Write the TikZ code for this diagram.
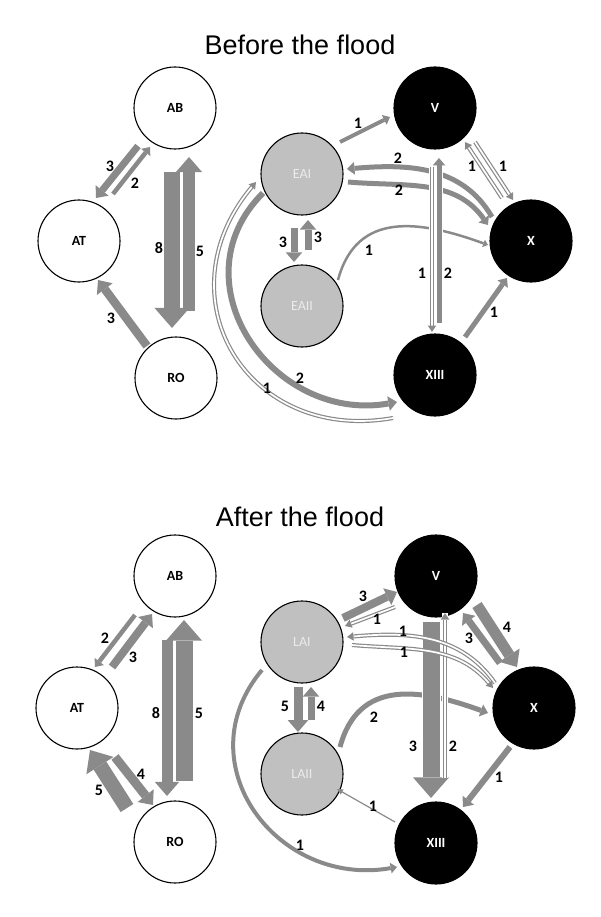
\documentclass[tikz,border=0pt]{standalone}
\usepackage{fontspec}
\newfontfamily\calfont{Carlito}
\newfontfamily\titlefont{Liberation Sans}
\usetikzlibrary{calc,arrows.meta}
\definecolor{flowc}{RGB}{138,138,138}
\definecolor{nodegray}{RGB}{192,192,192}
\definecolor{nodetext}{RGB}{235,235,235}
\tikzset{
  circ/.style={circle, minimum size=82pt, inner sep=0pt, line width=1.1pt, draw=black},
  wn/.style={circ, fill=white, font=\calfont\bfseries\fontsize{14}{14}\selectfont},
  gn/.style={circ, fill=nodegray, text=nodetext, font=\calfont\fontsize{14}{14}\selectfont},
  bn/.style={circ, fill=black, text=white, font=\calfont\bfseries\fontsize{14}{14}\selectfont},
  fl/.style={draw=flowc, line width=#1, -{Triangle[length=2pt 1.1, width=3pt 1.95, line width=0pt]}},
  hol/.style={draw=flowc, double=white, line width=1.2pt, double distance=1.7pt, -{Triangle[length=6.5pt, width=8.5pt, line width=0pt]}},
  thin/.style={draw=flowc, line width=1.2pt, -{Triangle[length=6pt, width=6pt, line width=0pt]}},
  halo/.style={preaction={draw=white, line width=#1, -}},
  lab/.style={font=\calfont\bfseries\fontsize{16}{16}\selectfont, inner sep=1pt},
  ttl/.style={font=\titlefont\fontsize{27}{27}\selectfont, inner sep=0pt},
}
\begin{document}
\begin{tikzpicture}[x=1pt,y=1pt]
\useasboundingbox (0,0) rectangle (600,-917);
% titles
\node[ttl] (t1) at (300,-45) {Before the flood};
\node[ttl] (t2) at (300,-517) {After the flood};
% ---------- before ----------
\node[wn] (AB) at (175,-108) {AB};
\node[wn] (AT) at (79,-241) {AT};
\node[wn] (RO) at (176,-378) {RO};
\node[gn] (EAI) at (302,-174) {EAI};
\node[gn] (EAII) at (302,-306) {EAII};
\node[bn] (V) at (435,-108) {V};
\node[bn] (X) at (531,-241) {X};
\node[bn] (XIII) at (435,-375) {XIII};

\draw[fl=7] ($(AB)+(-37,-38)$) -- ($(AT)+(17,43)$);
\draw[fl=4.5] ($(AT)+(34,47)$) -- ($(AB)+(-25,-39)$);
\draw[fl=16.5] ($(AB)+(-3,-64)$) -- ($(RO)+(-4,50)$);
\draw[fl=12] ($(RO)+(13,67)$) -- ($(AB)+(14,-49)$);
\draw[fl=8.5] ($(RO)+(-29,32)$) -- ($(AT)+(19,-39)$);

\draw[fl=4] ($(EAI)+(38,32)$) -- ($(V)+(-45,-9)$);
\draw[hol] ($(X)+(-29,43)$) -- ($(V)+(30,-34)$);
\draw[hol] ($(V)+(40,-34)$) -- ($(X)+(-18,41)$);
\draw[fl=5] ($(XIII)+(30,38)$) -- ($(X)+(-24,-37)$);
\draw[fl=7] ($(EAI)+(-8,-54)$) -- ($(EAII)+(-8,44)$);
\draw[fl=7] ($(EAII)+(6,56)$) -- ($(EAI)+(6,-46)$);
\draw[fl=5] ($(X)+(-39,24)$) to[out=120,in=5] ($(EAI)+(45,5)$);
\draw[fl=5] ($(EAI)+(46,-8)$) to[out=-5,in=125] ($(X)+(-43,16)$);
\draw[fl=2.5] ($(EAII)+(36,26)$) to[out=75,in=160,looseness=1.2] ($(X)+(-43,-4)$);
\draw[fl=6] ($(EAI)+(-39,-19)$) to[out=225,in=190,looseness=1.3] ($(XIII)+(-38,-27)$);
\draw[hol] ($(XIII)+(-42,-43)$) to[out=190,in=230,looseness=1.4] ($(EAI)+(-46,-8)$);
\draw[hol, halo=6.5pt] ($(V)+(-3,-59)$) -- ($(XIII)+(-3,43)$);
\draw[fl=5, halo=7.5pt] ($(XIII)+(4,52)$) -- ($(V)+(4,-50)$);

\node[lab] (a1) at (110,-166) {3};
\node[lab] (a2) at (135,-183) {2};
\node[lab] (a3) at (159,-248) {8};
\node[lab] (a4) at (200,-251) {5};
\node[lab] (a5) at (111,-318) {3};
\node[lab] (a6) at (358,-123) {1};
\node[lab] (a7) at (398,-158) {2};
\node[lab] (a8) at (399,-190) {2};
\node[lab] (a9) at (472,-166) {1};
\node[lab] (a10) at (503,-166) {1};
\node[lab] (a11) at (283,-242) {3};
\node[lab] (a12) at (318,-237) {3};
\node[lab] (a13) at (369,-250) {1};
\node[lab] (a14) at (422,-273) {1};
\node[lab] (a15) at (448,-273) {2};
\node[lab] (a16) at (494,-312) {1};
\node[lab] (a17) at (300,-378) {2};
\node[lab] (a18) at (267,-388) {1};

% ---------- after ----------
\node[wn] (AB2) at (175,-576) {AB};
\node[wn] (AT2) at (77,-708) {AT};
\node[wn] (RO2) at (175,-842) {RO};
\node[gn] (LAI) at (302,-642) {LAI};
\node[gn] (LAII) at (302,-774) {LAII};
\node[bn] (V2) at (436,-576) {V};
\node[bn] (X2) at (534,-708) {X};
\node[bn] (XIII2) at (436,-843) {XIII};

\draw[fl=4.5] ($(AB2)+(-40,-39)$) -- ($(AT2)+(18,41)$);
\draw[fl=8] ($(AT2)+(35,41)$) -- ($(AB2)+(-23,-38)$);
\draw[fl=11] ($(AB2)+(-8,-64)$) -- ($(RO2)+(-8,46)$);
\draw[fl=17] ($(RO2)+(9,61)$) -- ($(AB2)+(9,-44)$);
\draw[fl=15] ($(RO2)+(-48,34)$) -- ($(AT2)+(13,-42)$);
\draw[fl=9] ($(AT2)+(38,-49)$) -- ($(RO2)+(-22,37)$);

\draw[fl=8] ($(LAI)+(41,24)$) -- ($(V2)+(-39,-16)$);
\draw[hol] ($(V2)+(-41,-31)$) -- ($(LAI)+(43,16)$);
\draw[fl=7] ($(X2)+(-34,45)$) -- ($(V2)+(27,-37)$);
\draw[fl=11] ($(V2)+(41,-29)$) -- ($(X2)+(-17,41)$);
\draw[fl=5] ($(LAII)+(38,27)$) to[out=75,in=160,looseness=1.2] ($(X2)+(-46,-5)$);
\draw[fl=6] ($(X2)+(-24,-39)$) -- ($(XIII2)+(27,36)$);
\draw[thin] ($(XIII2)+(-41,21)$) -- ($(LAII)+(35,-15)$);
\draw[fl=9] ($(LAI)+(-4,-45)$) -- ($(LAII)+(-4,42)$);
\draw[fl=7] ($(LAII)+(9,54)$) -- ($(LAI)+(9,-45)$);
\draw[fl=4] ($(LAI)+(-40,-28)$) to[out=230,in=190,looseness=1.3] ($(XIII2)+(-39,-24)$);
\draw[fl=17, halo=19pt] ($(V2)+(-5,-46)$) -- ($(XIII2)+(-5,45)$);
\draw[hol, halo=6.5pt] ($(XIII2)+(9,65)$) -- ($(V2)+(9,-37)$);
\draw[hol] ($(X2)+(-39,25)$) to[out=125,in=5] ($(LAI)+(45,5)$);
\draw[hol] ($(LAI)+(50,-3)$) to[out=-5,in=130] ($(X2)+(-41,20)$);

\node[lab] (b1) at (105,-638) {2};
\node[lab] (b2) at (133,-657) {3};
\node[lab] (b3) at (156,-713) {8};
\node[lab] (b4) at (199,-713) {5};
\node[lab] (b5) at (99,-790) {5};
\node[lab] (b6) at (141,-774) {4};
\node[lab] (b7) at (363,-596) {3};
\node[lab] (b8) at (377,-619) {1};
\node[lab] (b9) at (403,-631) {1};
\node[lab] (b10) at (404,-652) {1};
\node[lab] (b11) at (469,-638) {3};
\node[lab] (b12) at (507,-627) {4};
\node[lab] (b13) at (285,-706) {5};
\node[lab] (b14) at (321,-706) {4};
\node[lab] (b15) at (374,-717) {2};
\node[lab] (b16) at (413,-746) {3};
\node[lab] (b17) at (453,-746) {2};
\node[lab] (b18) at (499,-777) {1};
\node[lab] (b19) at (373,-806) {1};
\node[lab] (b20) at (300,-845) {1};
\end{tikzpicture}
\end{document}
